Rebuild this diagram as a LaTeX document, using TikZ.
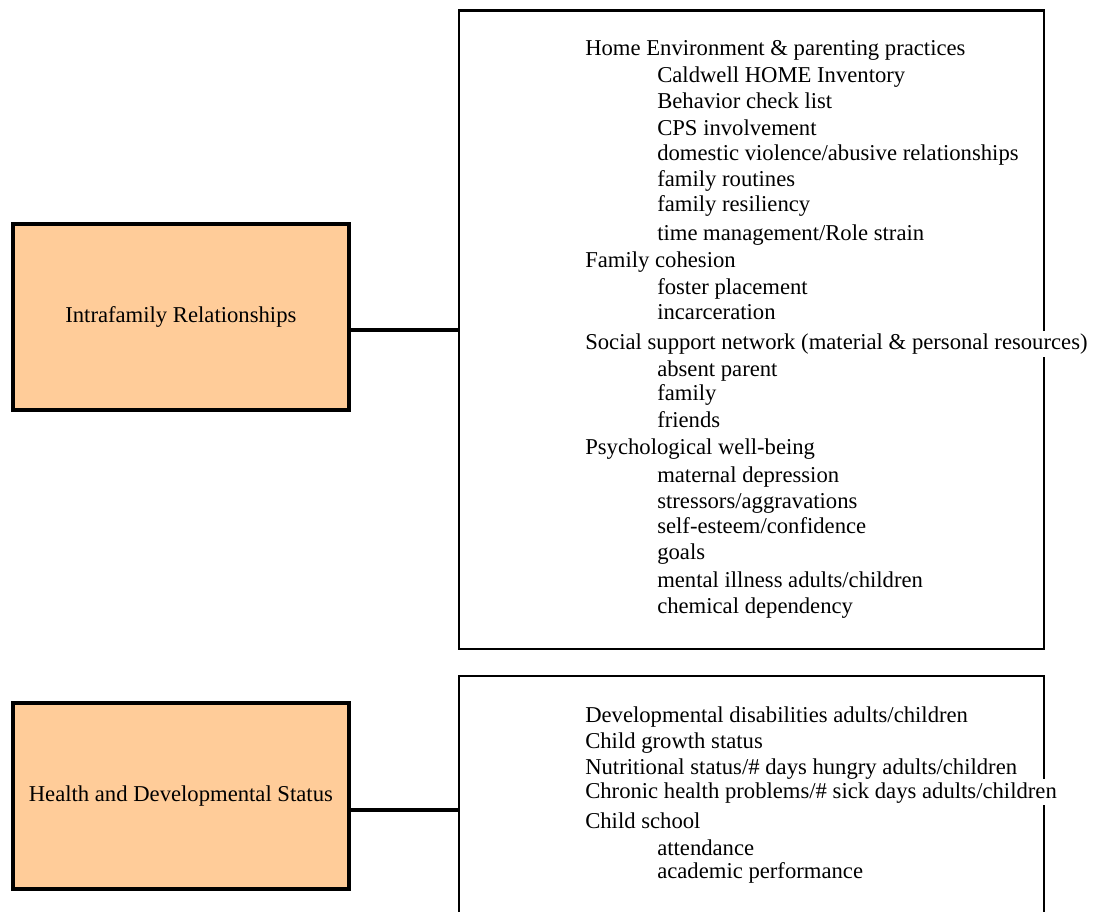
\documentclass[tikz,border=0pt]{standalone}
\usepackage{fontspec}
\setmainfont{Liberation Serif}
\usepackage{xcolor}
\usepackage{tikz}
\definecolor{boxorange}{HTML}{FFCC99}

\begin{document}
\begin{tikzpicture}[
    x=0.75pt, y=-0.75pt,
    every node/.style={font=\fontsize{17}{20}\selectfont},
    catbox/.style={draw, line width=3pt, fill=boxorange, inner sep=0pt,
        minimum width=251.8pt, minimum height=139.7pt},
    listbox/.style={draw, line width=1.8pt, inner sep=0pt, minimum width=438.75pt},
    listline/.style={anchor=base west, inner sep=0pt, fill=white,
        text height=14pt, text depth=5.5pt},
    link/.style={line width=3pt}
]
    % 画布
    \useasboundingbox (0,0) rectangle (1095,912);
    \clip (0,0) rectangle (1095,912);

    % 右侧列表框
    \node[listbox, minimum height=479pt] (famlist) at (751.2,329.65) {};
    \node[listbox, minimum height=200.85pt] (healthlist) at (751.2,809.7) {};

    % 左侧类别框
    \node[catbox] (intra) at (180.85,316.85) {Intrafamily Relationships};
    \node[catbox, minimum height=139.5pt] (health) at (180.85,795.7) {Health and Developmental Status};

    % 连线
    \draw[link] (intra.east |- famlist.west) -- (famlist.west);
    \draw[link] (health.east |- healthlist.west) -- (healthlist.west);

    % 家庭关系条目
    \foreach \y/\x/\txt [count=\i] in {
        56/585/Home Environment \& parenting practices,
        83/657/Caldwell HOME Inventory,
        109/657/Behavior check list,
        136/657/CPS involvement,
        161/657/{domestic violence/abusive relationships},
        187/657/family routines,
        212/657/family resiliency,
        241/657/{time management/Role strain},
        268/585/Family cohesion,
        295/657/foster placement,
        320/657/incarceration,
        350/585/Social support network (material \& personal resources),
        377/657/absent parent,
        401/657/family,
        428/657/friends,
        455/585/Psychological well-being,
        482/657/maternal depression,
        508/657/{stressors/aggravations},
        533/657/{self-esteem/confidence},
        559/657/goals,
        587/657/{mental illness adults/children},
        613/657/chemical dependency}
        \node[listline] (fam-\i) at (\x,\y) {\txt};

    % 健康条目
    \foreach \y/\x/\txt [count=\i] in {
        722/585/{Developmental disabilities adults/children},
        748/585/Child growth status,
        774/585/{Nutritional status/\# days hungry adults/children},
        798/585/{Chronic health problems/\# sick days adults/children},
        828/585/Child school,
        855/657/attendance,
        878/657/academic performance}
        \node[listline] (hlth-\i) at (\x,\y) {\txt};
\end{tikzpicture}
\end{document}
